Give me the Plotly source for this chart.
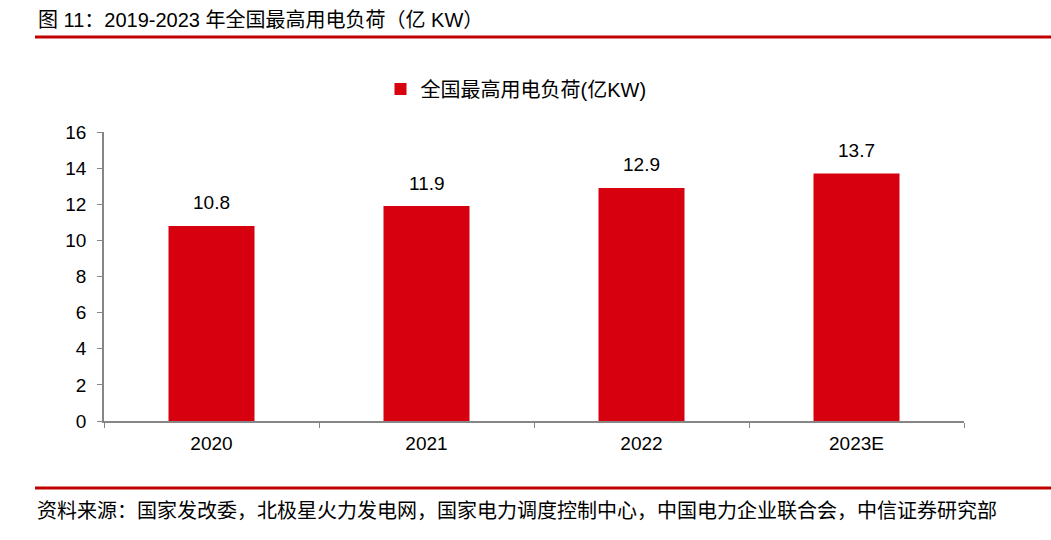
import plotly.graph_objects as go

categories = ["2020", "2021", "2022", "2023E"]
values = [10.8, 11.9, 12.9, 13.7]
series_name = "全国最高用电负荷(亿KW)"
title_text = "图 11：2019-2023 年全国最高用电负荷（亿 KW）"
source_text = "资料来源：国家发改委，北极星火力发电网，国家电力调度控制中心，中国电力企业联合会，中信证券研究部"
y_ticks = [0, 2, 4, 6, 8, 10, 12, 14, 16]

W, H = 1051, 540
L, R, T, B = 104, 87, 132, 119
pw, ph = W - L - R, H - T - B

def px(x):
    return (x - L) / pw

def py(y):
    return (H - B - y) / ph

FONT = "Liberation Sans, Arial, Noto Sans CJK SC, sans-serif"
BAR = "#D7000F"
LINE_RED = "#C00000"
AX = "#868686"

fig = go.Figure()
fig.add_trace(go.Bar(
    x=categories, y=values, name=series_name,
    marker=dict(color=BAR, line=dict(width=0)),
    showlegend=True,
))

for i, v in enumerate(values):
    fig.add_annotation(x=i, y=v, text=f"{v:.1f}", showarrow=False,
                       yanchor="middle", yshift=23,
                       font=dict(family=FONT, size=19, color="#000000"))

fig.add_annotation(xref="paper", yref="paper", x=px(36), y=py(20),
                   xanchor="left", yanchor="middle", showarrow=False,
                   text=title_text, font=dict(family=FONT, size=20, color="#000000"))
fig.add_annotation(xref="paper", yref="paper", x=px(35), y=py(509),
                   xanchor="left", yanchor="middle", showarrow=False,
                   text=source_text, font=dict(family="Noto Sans CJK SC, sans-serif", size=20, color="#000000"))

fig.add_shape(type="line", xref="paper", yref="paper",
              x0=px(35), x1=px(1051), y0=py(37), y1=py(37),
              line=dict(color=LINE_RED, width=3))
fig.add_shape(type="line", xref="paper", yref="paper",
              x0=px(35), x1=px(1051), y0=py(488), y1=py(488),
              line=dict(color=LINE_RED, width=3))

fig.update_layout(
    width=W, height=H,
    margin=dict(l=L, r=R, t=T, b=B, autoexpand=False),
    paper_bgcolor="white", plot_bgcolor="white",
    bargap=0.6,
    font=dict(family=FONT, size=16, color="#000000"),
    legend=dict(orientation="h", x=px(516), y=py(89), xanchor="center", yanchor="middle",
                font=dict(family=FONT, size=20, color="#000000"),
                itemwidth=30, bgcolor="rgba(0,0,0,0)"),
    xaxis=dict(type="category", range=[-0.5, len(categories) - 0.5], showline=True,
               linecolor=AX, linewidth=1.5,
               ticks="outside", tickson="boundaries", ticklen=5, tickcolor=AX,
               ticklabelstandoff=4,
               showgrid=False, tickfont=dict(family=FONT, size=19, color="#000000")),
    yaxis=dict(range=[0, 16], tickvals=y_ticks, showline=True, linecolor=AX, linewidth=1.5,
               ticks="outside", ticklen=5, tickcolor=AX, showgrid=False, zeroline=False,
               ticklabelstandoff=7,
               tickfont=dict(family=FONT, size=19, color="#000000")),
)

fig.write_html("out.html", config={"displayModeBar": False},
               post_script="document.body.style.margin='0px';document.body.style.overflow='hidden';")
